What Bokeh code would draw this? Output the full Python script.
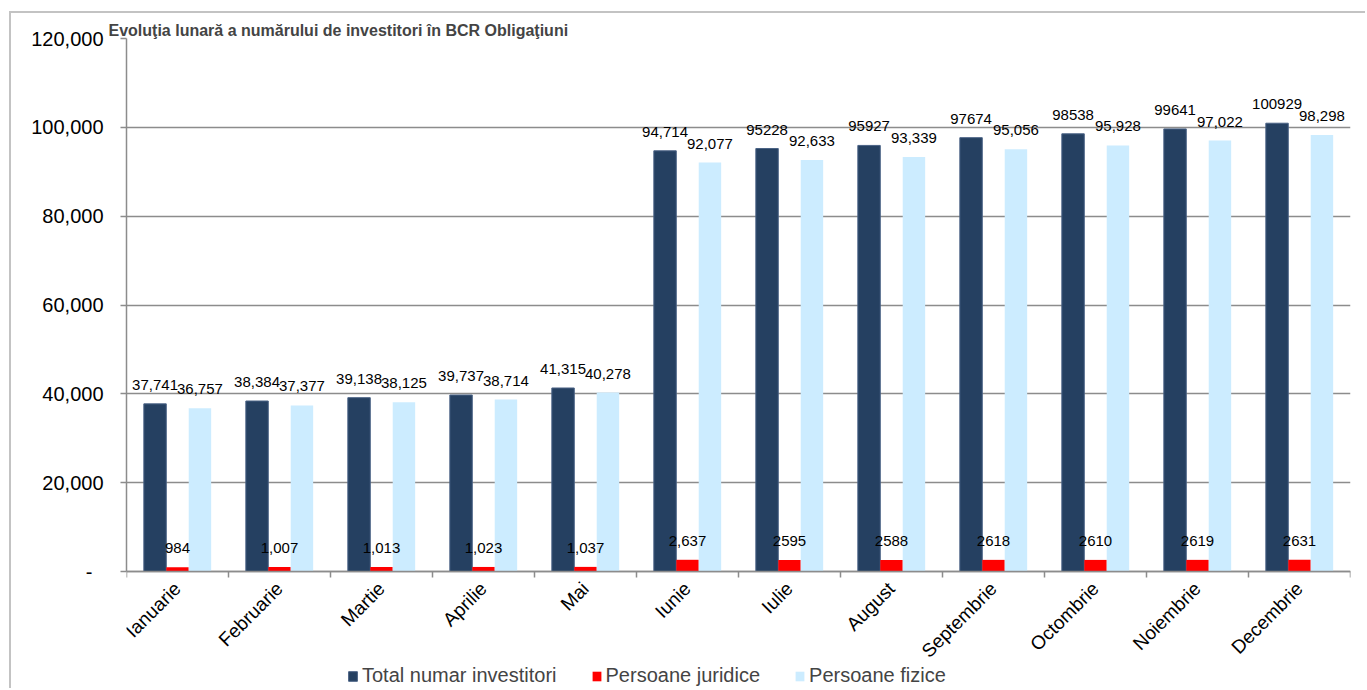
import math
from bokeh.plotting import figure
from bokeh.models import (ColumnDataSource, Range1d, FixedTicker, NumeralTickFormatter,
                          Legend, LegendItem)
from bokeh.transform import dodge
from bokeh.core.properties import value
from bokeh.embed import file_html
from bokeh.resources import INLINE

# ---- data ----
months = ["Ianuarie", "Februarie", "Martie", "Aprilie", "Mai", "Iunie", "Iulie",
          "August", "Septembrie", "Octombrie", "Noiembrie", "Decembrie"]
total = [37741, 38384, 39138, 39737, 41315, 94714, 95228, 95927, 97674, 98538, 99641, 100929]
juridice = [984, 1007, 1013, 1023, 1037, 2637, 2595, 2588, 2618, 2610, 2619, 2631]
fizice = [36757, 37377, 38125, 38714, 40278, 92077, 92633, 93339, 95056, 95928, 97022, 98298]
total_lbl = ["37,741", "38,384", "39,138", "39,737", "41,315", "94,714", "95228", "95927",
             "97674", "98538", "99641", "100929"]
juridice_lbl = ["984", "1,007", "1,013", "1,023", "1,037", "2,637", "2595", "2588", "2618",
                "2610", "2619", "2631"]
fizice_lbl = ["36,757", "37,377", "38,125", "38,714", "40,278", "92,077", "92,633", "93,339",
              "95,056", "95,928", "97,022", "98,298"]
series_names = ["Total numar investitori", "Persoane juridice", "Persoane fizice"]
y_ticks = [0, 20000, 40000, 60000, 80000, 100000, 120000]
title_text = "Evoluţia lunară a numărului de investitori în BCR Obligaţiuni"

FONT = "Liberation Sans"
DARK = "#254061"
RED = "#FF0000"
LIGHT = "#CCECFF"
GRID = "#8C8C8C"

# layout: value axis spans PLOT_PX pixels, space for month labels + legend below it
Y_MAX = 120000
PLOT_PX = 533
BELOW_PX = 117
y_start = -Y_MAX * BELOW_PX / PLOT_PX

centers = [i + 0.5 for i in range(len(months))]
src = ColumnDataSource(dict(x=centers, total=total, juridice=juridice, fizice=fizice,
                            total_lbl=total_lbl, juridice_lbl=juridice_lbl,
                            fizice_lbl=fizice_lbl))

p = figure(frame_width=1224, frame_height=PLOT_PX + BELOW_PX,
           x_range=Range1d(0, len(months)), y_range=Range1d(y_start, Y_MAX),
           output_backend="svg", toolbar_location=None,
           min_border_left=115, min_border_right=15, min_border_top=25,
           min_border_bottom=0)
p.margin = (11, 0, 0, 9)
p.styles = {"border-left": "2px solid #C3C3C3", "border-top": "2px solid #C3C3C3"}
p.outline_line_color = None
p.background_fill_color = "white"
p.border_fill_color = "white"

p.title.text = title_text
p.title.text_font = FONT
p.title.text_font_style = "bold"
p.title.text_font_size = "16px"
p.title.align = "left"
p.title.offset = -18
p.title.standoff = 0

w = 0.22
r_total = p.vbar(x=dodge("x", -w, range=p.x_range), top="total", width=w, source=src,
                 fill_color=DARK, line_color="#4A6285", line_width=1)
r_jur = p.vbar(x=dodge("x", 0, range=p.x_range), top="juridice", width=w, source=src,
               fill_color=RED, line_color=None)
r_fiz = p.vbar(x=dodge("x", w, range=p.x_range), top="fizice", width=w, source=src,
               fill_color=LIGHT, line_color=None)

for col, off in (("total", -w), ("juridice", 0), ("fizice", w)):
    p.text(x=dodge("x", off, range=p.x_range), y=col, text=col + "_lbl", source=src,
           text_font=value(FONT), text_font_size="15px", text_color="black",
           text_align="center", text_baseline="middle", y_offset=-19)

# y axis
yax = p.yaxis[0]
yax.ticker = FixedTicker(ticks=y_ticks)
yax.bounds = (0, Y_MAX)
yax.formatter = NumeralTickFormatter(format="0,0")
yax.major_label_overrides = {0: "-\u00a0\u00a0"}
yax.major_label_text_font = FONT
yax.major_label_text_font_size = "20px"
yax.major_label_text_color = "black"
yax.major_tick_out = 6
yax.major_tick_in = 0
yax.minor_tick_out = 0
yax.minor_tick_in = 0
yax.major_label_standoff = 17
yax.axis_line_color = GRID
yax.axis_line_width = 1.5
yax.major_tick_line_color = GRID
yax.major_tick_line_width = 1.5

# x axis, drawn at value 0
xax = p.xaxis[0]
xax.fixed_location = 0
xax.ticker = FixedTicker(ticks=centers, minor_ticks=list(range(len(months) + 1)))
xax.major_label_overrides = {c: m for c, m in zip(centers, months)}
xax.major_label_orientation = math.pi / 4
xax.major_label_text_font = FONT
xax.major_label_text_font_size = "19px"
xax.major_label_text_color = "black"
xax.major_tick_out = 0
xax.major_tick_in = 0
xax.minor_tick_out = 6
xax.minor_tick_in = 0
xax.minor_tick_line_color = GRID
xax.minor_tick_line_width = 1.5
xax.major_label_standoff = 8
xax.axis_line_color = GRID
xax.axis_line_width = 1.5

p.xgrid.grid_line_color = None
p.ygrid.ticker = FixedTicker(ticks=y_ticks)
p.ygrid.grid_line_color = GRID
p.ygrid.grid_line_width = 1.5

legend = Legend(items=[LegendItem(label=series_names[0], renderers=[r_total]),
                       LegendItem(label=series_names[1], renderers=[r_jur]),
                       LegendItem(label=series_names[2], renderers=[r_fiz])],
                orientation="horizontal", location=(221, 1),
                label_text_font=FONT, label_text_font_size="20px",
                glyph_width=11, glyph_height=12, label_standoff=4, spacing=34,
                padding=0, margin=0, border_line_color=None, background_fill_alpha=0,
                label_height=18)
p.add_layout(legend, "center")

open("out.html", "w").write(file_html(p, INLINE))
